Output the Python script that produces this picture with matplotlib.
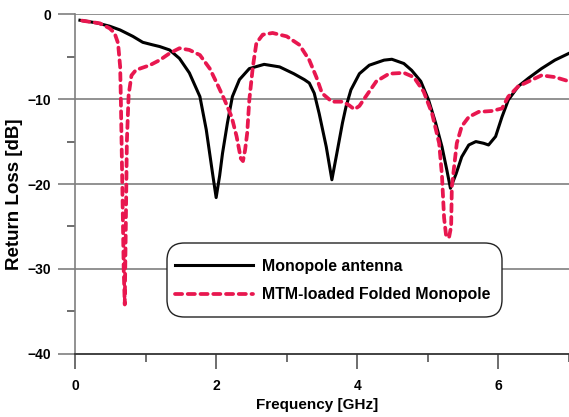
import matplotlib
matplotlib.use("Agg")
import matplotlib.pyplot as plt
from matplotlib.ticker import MultipleLocator
from matplotlib.patches import FancyBboxPatch

# ---- data ----
mono_f = [0.07, 0.3, 0.49, 0.64, 0.82, 0.96, 1.1, 1.2, 1.34, 1.48, 1.62, 1.77, 1.86, 1.95,
          2.0, 2.05, 2.09, 2.16, 2.23, 2.33, 2.47, 2.68, 2.9, 3.1, 3.25, 3.32, 3.39, 3.46,
          3.56, 3.64, 3.71, 3.79, 3.84, 3.91, 4.03, 4.17, 4.38, 4.49, 4.66, 4.77, 4.9,
          5.01, 5.11, 5.2, 5.27, 5.32, 5.4, 5.48, 5.58, 5.68, 5.79, 5.86, 5.96, 6.05,
          6.14, 6.28, 6.43, 6.61, 6.8, 7.0]
mono_rl = [-0.7, -1.0, -1.4, -1.85, -2.6, -3.3, -3.6, -3.8, -4.2, -5.2, -6.9, -9.7, -13.6, -18.8,
           -21.6, -19.0, -16.4, -12.8, -9.7, -7.7, -6.4, -5.9, -6.2, -7.0, -7.7, -8.1, -9.3, -11.7,
           -15.6, -19.5, -16.4, -12.8, -10.9, -8.9, -7.0, -6.0, -5.4, -5.3, -5.8, -6.6, -7.9,
           -10.1, -12.8, -15.6, -18.4, -20.5, -18.8, -16.8, -15.4, -15.0, -15.2, -15.4, -14.4, -12.1,
           -10.1, -8.5, -7.5, -6.4, -5.4, -4.6]

mtm_f = [0.1, 0.35, 0.49, 0.56, 0.61, 0.64, 0.65, 0.67, 0.69, 0.705, 0.72, 0.735, 0.76, 0.8,
         0.86, 0.92, 1.06, 1.2, 1.34, 1.48, 1.62, 1.77, 1.91, 2.02, 2.12, 2.22, 2.29, 2.35,
         2.38, 2.41, 2.44, 2.47, 2.52, 2.57, 2.66, 2.8, 3.0, 3.18, 3.32, 3.42, 3.5, 3.64,
         3.79, 3.88, 3.96, 4.03, 4.12, 4.27, 4.45, 4.66, 4.8, 4.94, 5.06, 5.16, 5.2, 5.23,
         5.26, 5.3, 5.33, 5.34, 5.41, 5.48, 5.58, 5.72, 5.9, 6.05, 6.14, 6.28, 6.43, 6.61,
         6.8, 7.0]
mtm_rl = [-0.75, -1.06, -1.65, -2.2, -3.4, -6.2, -10.1, -20.0, -30.0, -34.2, -25.0, -15.0, -9.5, -7.2,
          -6.6, -6.4, -6.0, -5.4, -4.6, -4.0, -4.2, -4.8, -6.4, -8.3, -10.1, -12.1, -14.4, -17.0,
          -17.3, -16.0, -14.0, -10.1, -6.2, -3.4, -2.4, -2.2, -2.6, -3.6, -5.4, -7.4, -9.3, -10.3,
          -10.3, -10.7, -11.2, -10.8, -9.7, -7.9, -7.0, -6.9, -7.4, -9.1, -11.7, -15.2, -19.0, -24.0,
          -26.2, -26.3, -25.0, -20.3, -15.2, -13.2, -12.1, -11.5, -11.4, -11.1, -9.7, -8.5, -7.9, -7.2,
          -7.4, -7.9]

labels = ["Monopole antenna", "MTM-loaded Folded Monopole"]
x_ticks = [0, 2, 4, 6]
y_ticks = [0, -10, -20, -30, -40]

plt.rcParams['font.family'] = ['Liberation Sans', 'DejaVu Sans']
plt.rcParams['font.weight'] = 'bold'

W, H = 569, 417
fig = plt.figure(figsize=(W / 100, H / 100), dpi=100)
ax_l, ax_r, ax_t, ax_b = 75, 569, 14.3, 353.7
ax = fig.add_axes([ax_l / W, 1 - ax_b / H, (ax_r - ax_l) / W, (ax_b - ax_t) / H])

def afx(px):
    return (px - ax_l) / (ax_r - ax_l)

def afy(py):
    return (ax_b - py) / (ax_b - ax_t)

red = '#E8174F'
ax.plot(mono_f, mono_rl, color='black', lw=2.2, label=labels[0], zorder=3)
ax.plot(mtm_f, mtm_rl, color=red, lw=2.7, ls=(0, (1.9, 1.5)), label=labels[1],
        zorder=4, dash_capstyle='round')

ax.set_xlim(0, 7)
ax.set_ylim(-40, 0)
ax.set_xticks(x_ticks)
ax.set_yticks(y_ticks)
ax.xaxis.set_minor_locator(MultipleLocator(1))
ax.yaxis.set_minor_locator(MultipleLocator(5))

for y in [0, -10, -20, -30]:
    ax.axhline(y, color='#7f7f7f', lw=1.2, zorder=1)

for s in ['top', 'right']:
    ax.spines[s].set_visible(False)
ax.spines['left'].set_color('#7f7f7f')
ax.spines['left'].set_linewidth(1.2)
ax.spines['bottom'].set_color('#333333')
ax.spines['bottom'].set_linewidth(1.3)

ax.tick_params(axis='both', which='major', labelsize=10, width=1.2)
ax.tick_params(axis='x', which='major', length=11, pad=7, color='#555555')
ax.tick_params(axis='x', which='minor', length=6, width=1.2, color='#555555')
ax.tick_params(axis='y', which='major', length=12, pad=5, color='#7f7f7f')
ax.tick_params(axis='y', which='minor', length=6, width=1.2, color='#555555')
for t in ax.get_xticklabels() + ax.get_yticklabels():
    t.set_fontweight('bold')
    t.set_color('black')

ax.set_xlabel('Frequency [GHz]', fontsize=11, fontweight='bold')
ax.set_ylabel('Return Loss [dB]', fontsize=13.5, fontweight='bold')
ax.xaxis.set_label_coords(afx(317), afy(398))
ax.yaxis.set_label_coords(afx(23), afy(194))

# legend frame (rounded box) and entries
frame = FancyBboxPatch((afx(167), afy(317)), afx(502) - afx(167), afy(243) - afy(317),
                       boxstyle='round,pad=0,rounding_size=0.035', transform=ax.transAxes,
                       facecolor='white', edgecolor='#222222', lw=1.0, zorder=5,
                       mutation_aspect=(ax_r - ax_l) / (ax_b - ax_t))
ax.add_patch(frame)
leg = ax.legend(loc='upper left', bbox_to_anchor=(afx(175), afy(259)), borderaxespad=0,
                fontsize=11.4, handlelength=4.9, handletextpad=0.57, borderpad=0,
                labelspacing=0.85, frameon=False)
leg.set_zorder(6)
for t in leg.get_texts():
    t.set_fontweight('bold')

fig.savefig('out.png', dpi=100)
